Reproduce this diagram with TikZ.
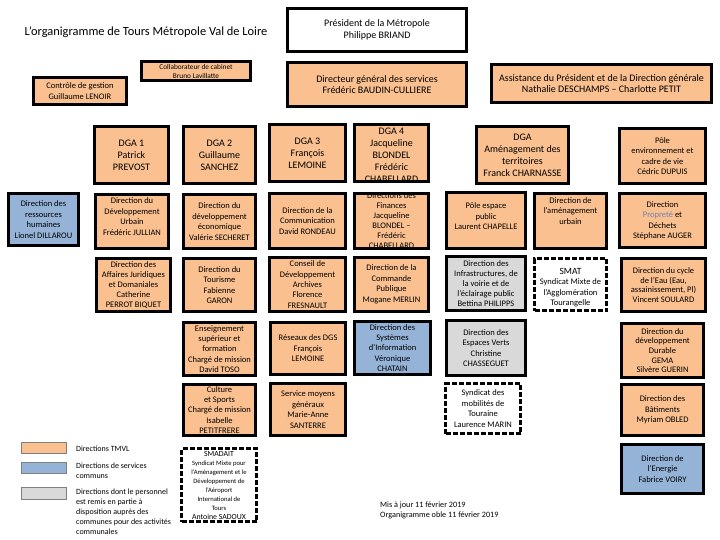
\documentclass[tikz,border=0pt]{standalone}
\usepackage{fontspec}
\setmainfont{Carlito}
\pgfdeclarelayer{background}
\pgfsetlayers{background,main}
\definecolor{orgorange}{RGB}{250,192,144}
\definecolor{orgblue}{RGB}{149,179,215}
\definecolor{orggrey}{RGB}{217,217,217}
\definecolor{conncol}{RGB}{94,129,150}
\definecolor{propblue}{RGB}{112,128,180}
\tikzset{
  boxbase/.style={draw=black, line width=3pt},
  obox/.style={boxbase, fill=orgorange},
  bbox/.style={boxbase, fill=orgblue},
  gbox/.style={boxbase, fill=orggrey},
  wbox/.style={boxbase, fill=white},
  dbox/.style={boxbase, dash pattern=on 5pt off 2pt, fill=white},
  txtbase/.style={align=center, inner sep=0pt, text=black},
  dirtxt/.style={txtbase, font=\fontsize{8.5}{10.5}\selectfont},
  dgatxt/.style={txtbase, font=\fontsize{10}{12}\selectfont},
  bigtxt/.style={txtbase, font=\fontsize{10}{11.5}\selectfont},
  smltxt/.style={txtbase, font=\fontsize{6.6}{9}\selectfont},
  conn/.style={draw=conncol, line width=1.2pt},
  legtxt/.style={align=left, inner sep=0pt, anchor=north west, font=\fontsize{8}{10}\selectfont},
  swatch/.style={draw=gray, line width=0.8pt},
}
\newcommand{\orgbox}[8]{%
  \pgfmathsetmacro{\orgX}{(#2+#4)/2}%
  \pgfmathsetmacro{\orgY}{(#3+#5)/2}%
  \pgfmathsetmacro{\orgW}{#4-#2-3}%
  \pgfmathsetmacro{\orgH}{#5-#3-3}%
  \node[#6, minimum width=\orgW pt, minimum height=\orgH pt, inner sep=0pt] (#1) at (\orgX,\orgY) {};%
  \node[#7] (#1t) at (#1.center) {#8};%
}
\begin{document}
\begin{tikzpicture}[x=1pt,y=-1pt]
\useasboundingbox[fill=white] (0,0) rectangle (720,540);

\node[inner sep=0pt, font=\fontsize{12.4}{14}\selectfont] (title) at (146,32) {L’organigramme de Tours Métropole Val de Loire};

% top level
\orgbox{pres}{286}{7}{468}{53}{wbox}{bigtxt}{Président de la Métropole\\Philippe BRIAND}
\orgbox{dgs}{286}{61}{468}{108}{obox}{bigtxt}{Directeur général des services\\Frédéric BAUDIN-CULLIERE}
\orgbox{assist}{490}{63}{713}{104}{obox}{bigtxt}{Assistance du Président et de la Direction générale\\Nathalie DESCHAMPS – Charlotte PETIT}
\orgbox{collab}{140}{60}{252}{82}{obox}{txtbase, font=\fontsize{7.3}{9.5}\selectfont, yshift=-0.5pt}{Collaborateur de cabinet\\Bruno Lavillatte}
\orgbox{ctrl}{32}{76}{128}{106}{obox}{txtbase, font=\fontsize{8.5}{11.5}\selectfont}{Contrôle de gestion\\Guillaume LENOIR}

% DGA row
\orgbox{drh}{7}{192}{80}{247}{bbox}{dirtxt}{Direction des\\ressources\\humaines\\Lionel DILLAROU}
\orgbox{dga1}{93}{125}{170}{185}{obox}{dgatxt}{DGA 1\\Patrick\\PREVOST}
\orgbox{dga2}{182}{125}{257}{185}{obox}{dgatxt}{DGA 2\\Guillaume\\SANCHEZ}
\orgbox{dga3}{268}{123}{347}{183}{obox}{dgatxt}{DGA 3\\François\\LEMOINE}
\orgbox{dga4}{353}{123}{430}{183}{obox}{dgatxt, yshift=-2pt}{DGA 4\\Jacqueline\\BLONDEL\\Frédéric\\CHABELLARD}
\orgbox{dgaam}{475}{125}{570}{185}{obox}{dgatxt}{DGA\\Aménagement des\\territoires\\Franck CHARNASSE}
\orgbox{poleenv}{618}{127}{707}{185}{obox}{dirtxt}{Pôle\\environnement et\\cadre de vie\\Cédric DUPUIS}

% row 2
\orgbox{dirdu}{94}{193}{170}{250}{obox}{dirtxt, yshift=5pt}{Direction du\\Développement\\Urbain\\Frédéric JULLIAN}
\orgbox{direco}{182}{193}{257}{250}{obox}{dirtxt}{Direction du\\développement\\économique\\Valérie SECHERET}
\orgbox{com}{268}{192}{347}{250}{obox}{dirtxt}{Direction de la\\Communication\\David RONDEAU}
\orgbox{fin}{353}{192}{430}{250}{obox}{txtbase, font=\fontsize{8.5}{10}\selectfont}{Directions des\\Finances\\Jacqueline\\BLONDEL –\\Frédéric\\CHABELLARD}
\orgbox{pep}{445}{191}{527}{250}{obox}{dirtxt, yshift=4pt}{Pôle espace\\public\\Laurent CHAPELLE}
\orgbox{amurb}{533}{192}{608}{250}{obox}{dirtxt, yshift=10pt}{Direction de\\l’aménagement\\urbain}
\orgbox{prop}{618}{192}{707}{249}{obox}{dirtxt}{Direction\\\textcolor{propblue}{Propreté} et\\Déchets\\Stéphane AUGER}

% row 3
\orgbox{daj}{95}{257}{172}{313}{obox}{txtbase, font=\fontsize{8.5}{10}\selectfont}{Direction des\\Affaires Juridiques\\et Domaniales\\Catherine\\PERROT BIQUET}
\orgbox{tour}{182}{257}{257}{313}{obox}{dirtxt}{Direction du\\Tourisme\\Fabienne\\GARON}
\orgbox{cdd}{268}{256}{347}{313}{obox}{txtbase, font=\fontsize{8.5}{10.3}\selectfont}{Conseil de\\Développement\\Archives\\Florence\\FRESNAULT}
\orgbox{cmdpub}{353}{256}{430}{313}{obox}{dirtxt}{Direction de la\\Commande\\Publique\\Mogane MERLIN}
\orgbox{infra}{445}{255}{527}{312}{gbox}{txtbase, font=\fontsize{8.5}{10}\selectfont}{Direction des\\Infrastructures, de\\la voirie et de\\l’éclairage public\\Bettina PHILIPPS}
\orgbox{smat}{533}{257}{608}{312}{dbox}{dirtxt, yshift=-3pt}{{\fontsize{9.5}{10.5}\selectfont SMAT}\\Syndicat Mixte de\\l’Agglomération\\Tourangelle}
\orgbox{eau}{620}{257}{707}{313}{obox}{txtbase, font=\fontsize{8.5}{9.7}\selectfont}{Direction du cycle\\de l’Eau (Eau,\\assainissement, Pl)\\Vincent SOULARD}

% row 4
\orgbox{ens}{182}{321}{257}{377}{obox}{txtbase, font=\fontsize{8.5}{10.2}\selectfont}{Enseignement\\supérieur et\\formation\\Chargé de mission\\David TOSO}
\orgbox{res}{269}{321}{347}{376}{obox}{dirtxt}{Réseaux des DGS\\François\\LEMOINE}
\orgbox{dsi}{353}{320}{432}{376}{bbox}{txtbase, font=\fontsize{8.5}{10.3}\selectfont}{Direction des\\Systèmes\\d’Information\\Véronique\\CHATAIN}
\orgbox{ev}{445}{319}{527}{377}{gbox}{dirtxt}{Direction des\\Espaces Verts\\Christine\\CHASSEGUET}
\orgbox{ddd}{620}{322}{705}{379}{obox}{txtbase, font=\fontsize{8.5}{9.7}\selectfont}{Direction du\\développement\\Durable\\GEMA\\Silvère GUERIN}

% row 5
\orgbox{cult}{182}{383}{257}{437}{obox}{txtbase, font=\fontsize{8.5}{10.2}\selectfont}{Culture\\et Sports\\Chargé de mission\\Isabelle\\PETITFRERE}
\orgbox{smg}{269}{382}{347}{437}{obox}{dirtxt}{Service moyens\\généraux\\Marie-Anne\\SANTERRE}
\orgbox{smob}{444}{382}{522}{435}{dbox}{dirtxt}{Syndicat des\\mobilités de\\Touraine\\Laurence MARIN}
\orgbox{bat}{620}{383}{705}{437}{obox}{dirtxt}{Direction des\\Bâtiments\\Myriam OBLED}

% row 6
\orgbox{smadait}{180}{447}{258}{523}{dbox}{smltxt}{{\fontsize{7.8}{9}\selectfont SMADAIT}\\Syndicat Mixte pour\\l’Aménagement et le\\Développement de\\l’Aéroport\\International de\\Tours\\{\fontsize{7.8}{9}\selectfont Antoine SADOUX}}
\orgbox{energie}{620}{443}{705}{495}{bbox}{dirtxt}{Direction de\\l’Energie\\Fabrice VOIRY}

% connectors
\coordinate (busL) at (47,116.5);
\begin{pgfonlayer}{background}
\draw[conn] (pres) -- (dgs);
\draw[conn] (collab.east) -- (collab.east -| dgs.west);
\draw[conn] (ctrl.east) -- (ctrl.east -| dgs.west);
\draw[conn] (dgs.east) -- (dgs.east -| assist.west);
\draw[conn] (dgs.south) -- (dgs.south |- busL);
\draw[conn] (busL |- drh.north) -- (busL) -| (poleenv.north);
\foreach \n in {dga1,dga2,dga3,dga4,dgaam}
  \draw[conn] (\n.north |- busL) -- (\n.north);
\end{pgfonlayer}

% legend
\node[swatch, fill=orgorange, minimum width=45pt, minimum height=11pt, inner sep=0pt] (legO) at (43.5,447.5) {};
\node[swatch, fill=orgblue, minimum width=45pt, minimum height=11pt, inner sep=0pt] (legB) at (43.5,467.5) {};
\node[swatch, fill=orggrey, minimum width=45pt, minimum height=12pt, inner sep=0pt] (legG) at (43.5,493) {};
\node[legtxt] (legOt) at (76,445.5) {Directions TMVL};
\node[legtxt] (legBt) at (76,462.5) {Directions de services\\communs};
\node[legtxt] (legGt) at (76,488.5) {Directions dont le personnel\\est remis en partie à\\disposition auprès des\\communes pour des activités\\communales};

% footer
\node[align=left, inner sep=0pt, anchor=north west, font=\fontsize{8.2}{9.5}\selectfont] (foot) at (380,502) {Mis à jour 11 février 2019\\Organigramme oble 11 février 2019};
\end{tikzpicture}
\end{document}
